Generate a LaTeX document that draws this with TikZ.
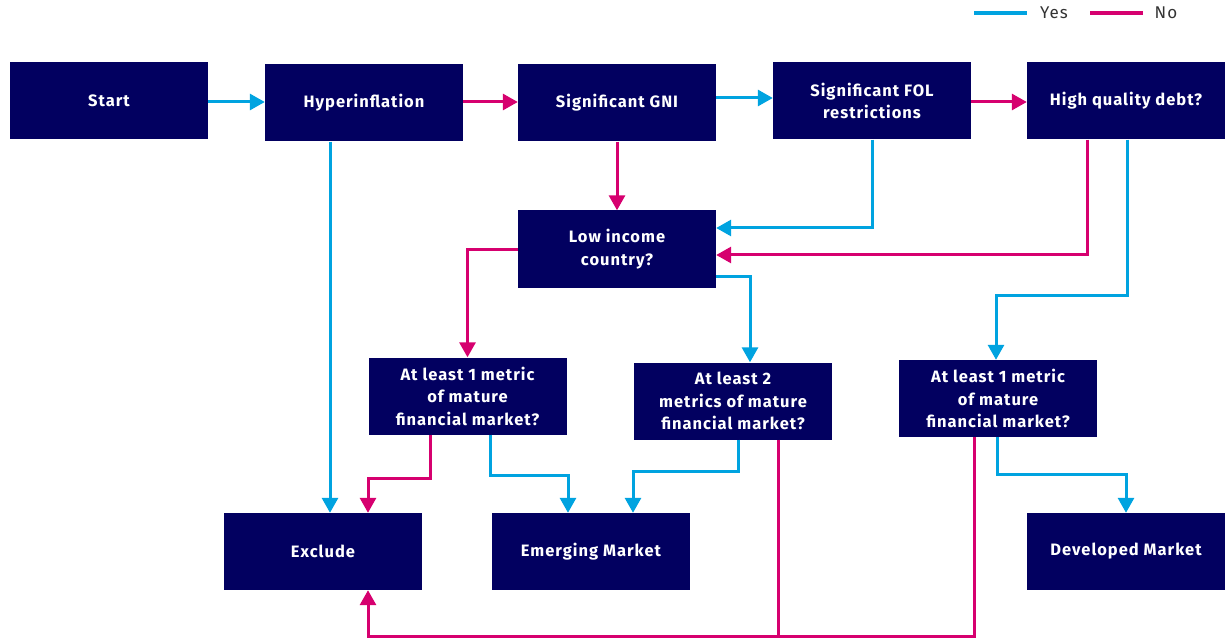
\documentclass[tikz,border=0pt]{standalone}
\usepackage{fontspec}
\setmainfont{Fira Sans}[LetterSpace=6]
\usetikzlibrary{arrows.meta, calc, positioning}

\definecolor{navy}{RGB}{2,0,96}
\definecolor{yesblue}{RGB}{0,163,224}
\definecolor{nopink}{RGB}{214,0,111}

\tikzset{
  box/.style={fill=navy, text=white, font=\bfseries\fontsize{16.5}{22.5}\selectfont,
    minimum width=198pt, minimum height=77pt, inner sep=0pt, align=center},
  yesline/.style={draw=yesblue, line width=3pt, -{Triangle[length=15pt,width=16pt]}},
  noline/.style={draw=nopink, line width=3pt, -{Triangle[length=15pt,width=16pt]}},
  legend/.style={font=\fontsize{17}{20}\selectfont, text=black!80},
}

\begin{document}
\begin{tikzpicture}[x=1pt,y=-1pt]
\useasboundingbox (0,0) rectangle (1232,639);

% Legend
\draw[yesblue, line width=4pt] (974,13) -- (1027,13);
\node[legend] (yeslbl) at (1054,13) {Yes};
\draw[nopink, line width=4pt] (1090,13) -- (1143,13);
\node[legend] (nolbl) at (1166,13) {No};

% Top row
\node[box] (start) at (109,101) {Start};
\node[box] (hyper) at (364,103) {Hyperinflation};
\node[box] (gni) at (617,103) {Significant GNI};
\node[box] (fol) at (872,101) {Significant FOL\\restrictions};
\node[box] (hqd) at (1126,101) {High quality debt?};

% Middle rows
\node[box] (lowinc) at (617,249) {Low income\\country?};
\node[box] (leastonel) at (467.5,396) {At least 1 metric\\of mature\\financial market?};
\node[box] (leasttwo) at (733,401) {At least 2\\metrics of mature\\financial market?};
\node[box] (leastoner) at (998,398.5) {At least 1 metric\\of mature\\financial market?};

% Outcomes
\node[box] (exclude) at (323,551.5) {Exclude};
\node[box] (emerging) at (591,551.5) {Emerging Market};
\node[box] (developed) at (1126,551.5) {Developed Market};

% Top row arrows
\draw[yesline] ([yshift=-1pt]start.east) -- ([yshift=1pt]hyper.west);
\draw[noline] ([yshift=1pt]hyper.east) -- ([yshift=1pt]gni.west);
\draw[yesline] ([yshift=5pt]gni.east) -- ([yshift=3pt]fol.west);
\draw[noline] ([yshift=-1pt]fol.east) -- ([yshift=-1pt]hqd.west);

% Down to low income / exclude
\draw[yesline] ([xshift=-34pt]hyper.south) -- ([xshift=-34pt]hyper.south |- exclude.north);
\draw[noline] (gni) -- (lowinc);
\draw[yesline] (fol.south) |- ([yshift=21pt]lowinc.east);
\draw[noline] ([xshift=-39pt]hqd.south) |- ([yshift=-6pt]lowinc.east);
\draw[yesline] ([xshift=1pt]hqd.south) -- ++(0,156) -| ([xshift=-2pt]leastoner.north);

% Low income branches
\draw[noline] ([yshift=-1pt]lowinc.west) -| (leastonel.north);
\draw[yesline] ([yshift=-28pt]lowinc.east) -| ([xshift=17pt]leasttwo.north);

% Metric branches
\draw[noline] ([xshift=-37pt]leastonel.south) -- ++(0,44) -| ([xshift=45pt]exclude.north);
\draw[yesline] ([xshift=23pt]leastonel.south) -- ++(0,41) -| ([xshift=-23pt]emerging.north);
\draw[yesline] ([xshift=5pt]leasttwo.south) -- ++(0,32) -| ([xshift=42pt]emerging.north);
\coordinate (join) at ($(leasttwo.south)+(45,197)$);
\draw[noline] ([xshift=45pt]leasttwo.south) -- (join) -| ([xshift=45pt]exclude.south);
\draw[nopink, line width=3pt] ([xshift=-24pt]leastoner.south) |- (join);
\draw[yesline] ([xshift=-1pt]leastoner.south) -- ++(0,37) -| (developed.north);
\end{tikzpicture}
\end{document}
